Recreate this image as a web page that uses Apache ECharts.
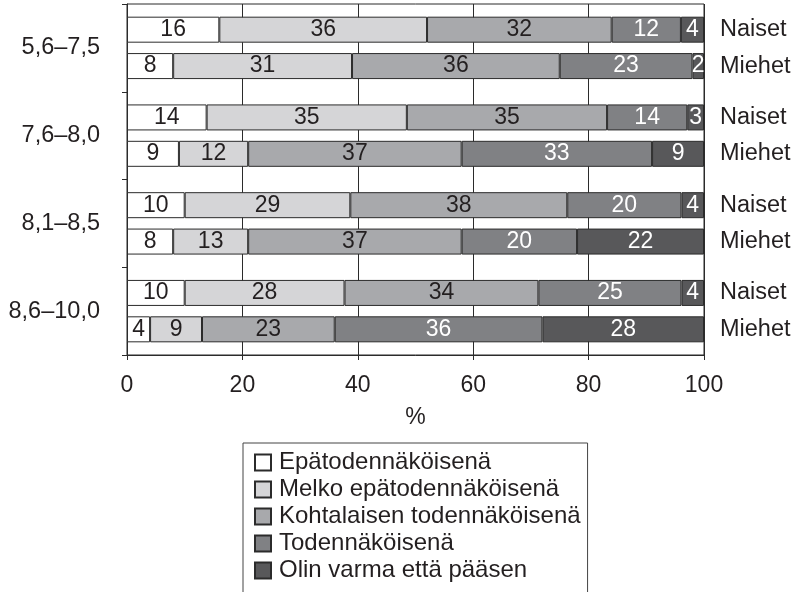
<!DOCTYPE html>
<html>
<head>
<meta charset="utf-8">
<script src="https://cdn.jsdelivr.net/npm/echarts@6/dist/echarts.min.js"></script>
<style>
html,body{margin:0;padding:0;background:#fff;}
#main{width:795px;height:592px;}
</style>
</head>
<body>
<div id="main"></div>
<script>
// ---- data ----
const groups = ['5,6–7,5', '7,6–8,0', '8,1–8,5', '8,6–10,0'];
const sexLabels = ['Naiset', 'Miehet'];
const answers = ['Epätodennäköisenä', 'Melko epätodennäköisenä', 'Kohtalaisen todennäköisenä', 'Todennäköisenä', 'Olin varma että pääsen'];
// percentages per answer, one value per group (segment widths; labels are their rounded values)
const naisetEpatod   = [16, 13.8, 10.0, 10.0];
const naisetMelko    = [36, 34.7, 28.7, 27.7];
const naisetKohtal   = [32, 34.7, 37.6, 33.6];
const naisetTodenn   = [12, 13.9, 19.8, 24.8];
const naisetVarma    = [4, 2.9, 3.9, 3.9];
const miehetEpatod   = [8, 9, 8, 4];
const miehetMelko    = [31, 12, 13, 9];
const miehetKohtal   = [36, 37, 37, 23];
const miehetTodenn   = [23, 33, 20, 36];
const miehetVarma    = [2, 9, 22, 28];
const xTicks = [0, 20, 40, 60, 80, 100];

const naiset = [naisetEpatod, naisetMelko, naisetKohtal, naisetTodenn, naisetVarma];
const miehet = [miehetEpatod, miehetMelko, miehetKohtal, miehetTodenn, miehetVarma];

// ---- styles ----
const fills = ['#ffffff', '#d5d5d7', '#a8a9ac', '#808184', '#58585a'];
const labelColors = ['#231f20', '#231f20', '#231f20', '#ffffff', '#ffffff'];
const lineColor = '#2b2b2b';
const textColor = '#231f20';
const FONT = 'Liberation Sans, Arial, sans-serif';

function makeSeries(stackName, sets) {
  return sets.map((vals, i) => ({
    name: answers[i],
    type: 'bar',
    stack: stackName,
    data: vals,
    barWidth: 26,
    barGap: '40%',
    itemStyle: { color: fills[i], borderColor: lineColor, borderWidth: 1 },
    label: {
      show: true,
      position: 'inside',
      formatter: p => String(Math.round(p.value)),
      color: labelColors[i],
      fontFamily: FONT,
      fontSize: 23
    },
    emphasis: { disabled: true },
    animation: false
  }));
}

const chart = echarts.init(document.getElementById('main'), null, { renderer: 'canvas' });
chart.setOption({
  backgroundColor: '#ffffff',
  animation: false,
  grid: {
    left: 127, right: 91, top: 4, height: 351,
    show: true, borderColor: lineColor, borderWidth: 1, backgroundColor: 'transparent'
  },
  legend: {
    data: answers,
    orient: 'vertical',
    left: 243, top: 443, height: 160,
    itemWidth: 16, itemHeight: 16, itemGap: 0,
    icon: 'rect',
    padding: [6, 7, 14, 11],
    borderColor: '#444', borderWidth: 1,
    textStyle: { fontFamily: FONT, fontSize: 24, lineHeight: 27, color: textColor, padding: [0, 0, 0, 3] },
    selectedMode: false
  },
  xAxis: {
    type: 'value',
    min: xTicks[0], max: xTicks[xTicks.length - 1], interval: xTicks[1] - xTicks[0],
    name: '%',
    nameLocation: 'middle',
    nameGap: 51,
    nameTextStyle: { fontFamily: FONT, fontSize: 23, color: textColor },
    axisLine: { show: true, lineStyle: { color: lineColor, width: 1 } },
    axisTick: { show: true, length: 5, inside: false, lineStyle: { color: lineColor } },
    axisLabel: { fontFamily: FONT, fontSize: 23, color: textColor, margin: 19 },
    splitLine: { show: true, lineStyle: { color: lineColor, width: 1 } }
  },
  yAxis: [
    {
      type: 'category',
      data: groups,
      inverse: true,
      axisLine: { show: true, lineStyle: { color: lineColor, width: 1 } },
      axisTick: { show: true, length: 5, lineStyle: { color: lineColor } },
      axisLabel: { fontFamily: FONT, fontSize: 23.5, color: textColor, margin: 27 },
      splitLine: { show: false }
    },
    {
      type: 'category',
      data: groups,
      inverse: true,
      position: 'right',
      axisLine: { show: false },
      axisTick: { show: false },
      axisLabel: {
        fontFamily: FONT, fontSize: 23.5, color: textColor, margin: 16,
        lineHeight: 36.5, align: 'left',
        formatter: () => sexLabels.join('\n')
      },
      splitLine: { show: false }
    }
  ],
  series: makeSeries('Naiset', naiset).concat(makeSeries('Miehet', miehet))
});
</script>
</body>
</html>
